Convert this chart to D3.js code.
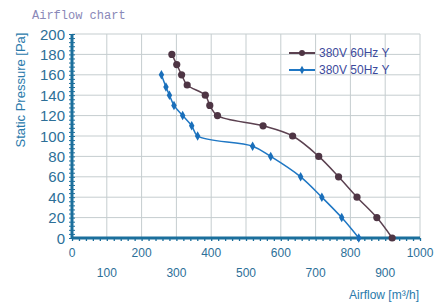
<!DOCTYPE html>
<html>
<head>
<meta charset="utf-8">
<script src="https://cdn.jsdelivr.net/npm/d3@7"></script>
<style>
  body { margin: 0; background: #fff; }
  svg { display: block; }
  .grid line { stroke: #c5cdcf; stroke-width: 1; }
  .tick-label { font-family: "Liberation Sans", Arial, sans-serif; font-size: 13px; fill: #2d6f98; }
</style>
</head>
<body>
<script>
//chart data
var series60Flow = [287, 301, 315, 331, 383, 396, 418, 549, 634, 709, 766, 819, 876, 920];
var series60Pa   = [180, 170, 160, 150, 140, 130, 120, 110, 100, 80, 60, 40, 20, 0];
var series50Flow = [257, 270, 280, 293, 318, 344, 361, 519, 571, 657, 718, 775, 824];
var series50Pa   = [160, 148, 140, 130, 120, 110, 100, 90, 80, 60, 40, 20, 0];
var seriesNames  = ["380V 60Hz Y", "380V 50Hz Y"];
var xTicks = [0, 100, 200, 300, 400, 500, 600, 700, 800, 900, 1000];
var yTicks = [0, 20, 40, 60, 80, 100, 120, 140, 160, 180, 200];

window.onload = drawChart();

function drawChart() {

    var width = 434,
        height = 305;

    var svg = d3.select("body")
        .append("svg")
        .attr("width", width)
        .attr("height", height);

    var x = d3.scaleLinear().domain([0, 1000]).range([72, 420]);
    var y = d3.scaleLinear().domain([0, 200]).range([238, 34]);

    //title
    svg.append("text")
        .attr("x", 32)
        .attr("y", 19)
        .style("font-family", "'Liberation Mono', monospace")
        .style("font-size", "12px")
        .style("fill", "#8a88b8")
        .text("Airflow chart");

    //grid
    var grid = svg.append("g").attr("class", "grid");
    grid.selectAll(".v")
        .data(xTicks.slice(1))
        .enter()
        .append("line")
        .attr("x1", function(d) { return x(d); })
        .attr("x2", function(d) { return x(d); })
        .attr("y1", y(0))
        .attr("y2", y(200));
    grid.selectAll(".h")
        .data(yTicks.slice(1))
        .enter()
        .append("line")
        .attr("x1", x(0))
        .attr("x2", x(1000))
        .attr("y1", function(d) { return y(d); })
        .attr("y2", function(d) { return y(d); });

    //minor ticks on the axes
    var axisColor = "#1b6f9c";
    svg.append("g")
        .attr("transform", "translate(0," + y(0) + ")")
        .call(d3.axisBottom(x).tickValues(d3.range(0, 1001, 20)).tickSize(3).tickFormat(""))
        .call(function(g) {
            g.select(".domain").remove();
            g.selectAll("line").attr("stroke", axisColor).attr("stroke-width", 1.3);
        });
    svg.append("g")
        .attr("transform", "translate(" + x(0) + ",0)")
        .call(d3.axisLeft(y).tickValues(d3.range(0, 201, 4)).tickSize(3).tickFormat(""))
        .call(function(g) {
            g.select(".domain").remove();
            g.selectAll("line").attr("stroke", axisColor).attr("stroke-width", 1).attr("x2", 3).attr("x1", -3);
        });

    //axis lines
    svg.append("line")
        .attr("x1", x(0)).attr("x2", x(1000))
        .attr("y1", y(0)).attr("y2", y(0))
        .attr("stroke", axisColor).attr("stroke-width", 3);
    svg.append("line")
        .attr("x1", x(0)).attr("x2", x(0))
        .attr("y1", y(0) + 1).attr("y2", y(200))
        .attr("stroke", axisColor).attr("stroke-width", 3);

    //tick labels
    svg.selectAll(".ylab")
        .data(yTicks)
        .enter()
        .append("text")
        .attr("class", "tick-label")
        .attr("x", 65)
        .attr("y", function(d) { return y(d) + 5.5; })
        .attr("text-anchor", "end")
        .style("font-size", "15px")
        .text(function(d) { return d; });

    svg.selectAll(".xlab")
        .data(xTicks)
        .enter()
        .append("text")
        .attr("class", "tick-label")
        .attr("x", function(d) { return x(d); })
        .attr("y", function(d) { return (d / 100) % 2 === 0 ? 257 : 277; })
        .attr("text-anchor", "middle")
        .style("font-size", "12px")
        .text(function(d) { return d; });

    //axis titles
    svg.append("text")
        .attr("transform", "translate(25,90) rotate(-90)")
        .attr("text-anchor", "middle")
        .style("font-family", "'Liberation Sans', Arial, sans-serif")
        .style("font-size", "13px")
        .style("fill", "#2a7aab")
        .text("Static Pressure [Pa]");
    svg.append("text")
        .attr("x", 419)
        .attr("y", 299)
        .attr("text-anchor", "end")
        .style("font-family", "'Liberation Sans', Arial, sans-serif")
        .style("font-size", "12px")
        .style("fill", "#2a7aab")
        .text("Airflow [m\u00b3/h]");

    //curves
    var line = d3.line()
        .x(function(d) { return x(d[0]); })
        .y(function(d) { return y(d[1]); })
        .curve(d3.curveCatmullRom);

    var pts60 = d3.zip(series60Flow, series60Pa);
    var pts50 = d3.zip(series50Flow, series50Pa);
    var color60 = "#5b4150", color50 = "#1f77c4";

    svg.append("path")
        .datum(pts60)
        .attr("d", line)
        .attr("fill", "none")
        .attr("stroke", color60)
        .attr("stroke-width", 1.5);
    svg.append("path")
        .datum(pts50)
        .attr("d", line)
        .attr("fill", "none")
        .attr("stroke", color50)
        .attr("stroke-width", 1.5);

    svg.selectAll(".m60")
        .data(pts60)
        .enter()
        .append("circle")
        .attr("cx", function(d) { return x(d[0]); })
        .attr("cy", function(d) { return y(d[1]); })
        .attr("r", 3.6)
        .attr("fill", "#4e3544");

    var diamond = d3.symbol().type(d3.symbolDiamond).size(26);
    svg.selectAll(".m50")
        .data(pts50)
        .enter()
        .append("path")
        .attr("d", diamond)
        .attr("transform", function(d) { return "translate(" + x(d[0]) + "," + y(d[1]) + ")"; })
        .attr("fill", "#1a6fba");

    //legend
    var legend = svg.append("g").attr("transform", "translate(289,53)");
    [color60, color50].forEach(function(c, i) {
        var g = legend.append("g").attr("transform", "translate(0," + (i * 17) + ")");
        g.append("line").attr("x1", 0).attr("x2", 26).attr("stroke", c).attr("stroke-width", 2);
        if (i === 0) {
            g.append("circle").attr("cx", 13).attr("r", 3).attr("fill", "#4e3544");
        } else {
            g.append("path").attr("d", d3.symbol().type(d3.symbolDiamond).size(20)).attr("transform", "translate(13,0)").attr("fill", "#1a6fba");
        }
        g.append("text")
            .attr("x", 30)
            .attr("y", 4)
            .style("font-family", "'Liberation Sans', Arial, sans-serif")
            .style("font-size", "12px")
            .style("fill", "#3c4a9c")
            .text(seriesNames[i]);
    });
};
</script>
</body>
</html>
